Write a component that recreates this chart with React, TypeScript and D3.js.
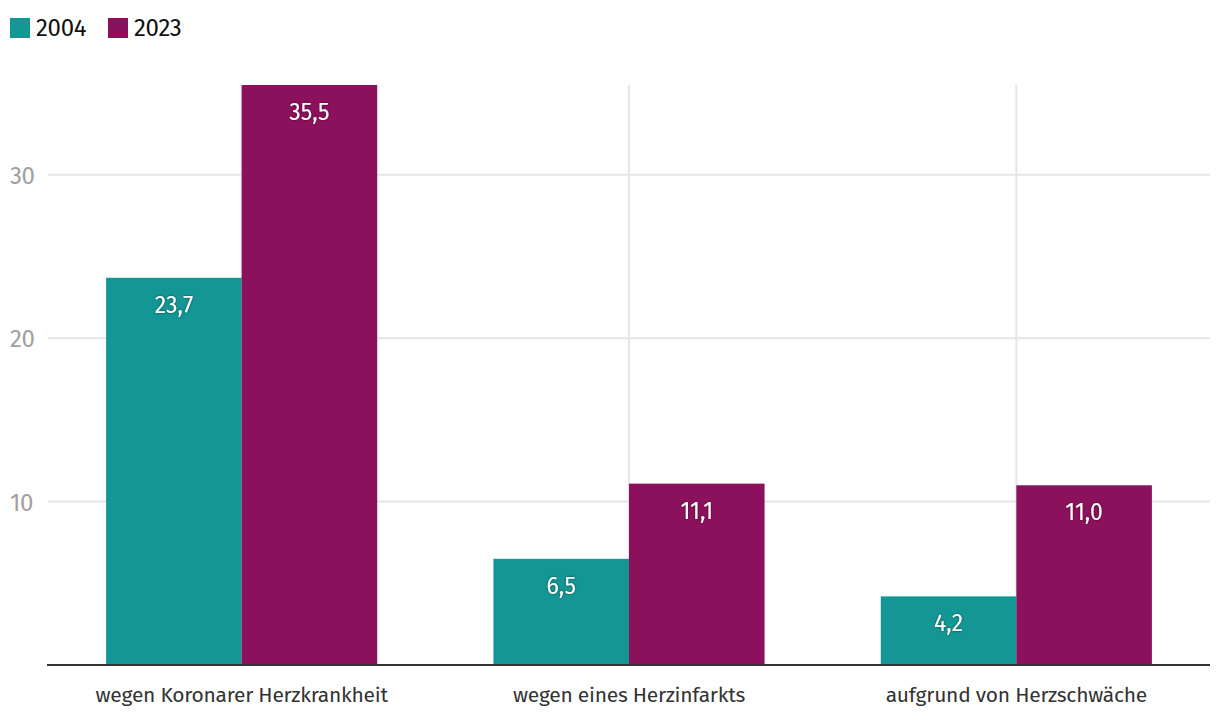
import React from "react";
import * as d3 from "d3";

const categories = ["wegen Koronarer Herzkrankheit", "wegen eines Herzinfarkts", "aufgrund von Herzschwäche"];
const seriesNames = ["2004", "2023"];
const values2004 = [23.7, 6.5, 4.2];
const values2023 = [35.5, 11.1, 11.0];
const yTicks = [10, 20, 30];
const colors = ["#139694", "#8c115c"];

const W = 1220;
const H = 722;
const FONT = "'Fira Sans', 'Noto Sans', 'Open Sans', sans-serif";

export default function App() {
  const left = 48, right = 1210, top = 85, bottom = 665;
  const x0 = d3.scaleBand<string>().domain(categories).range([left, right]).paddingInner(0.3).paddingOuter(0.15);
  const x1 = d3.scaleBand<string>().domain(seriesNames).range([0, x0.bandwidth()]).padding(0);
  const y = d3.scaleLinear().domain([0, 35.5]).range([bottom, top]);
  const series = [values2004, values2023];
  const fmt = (v: number) => v.toFixed(1).replace(".", ",");

  return (
    <svg width={W} height={H} style={{ position: "absolute", left: 0, top: 0, fontFamily: FONT }}>
      <defs>
        <filter id="ts" x="-20%" y="-20%" width="140%" height="140%">
          <feDropShadow dx="0" dy="0" stdDeviation="1.2" floodColor="#000" floodOpacity="0.6" />
        </filter>
      </defs>
      {/* legend */}
      {seriesNames.map((s, i) => {
        const lx = i === 0 ? 10 : 108;
        return (
          <g key={s}>
            <rect x={lx} y={18} width={20} height={20} fill={colors[i]} />
            <text x={lx + 26} y={36} fontSize={24} fill="#111" letterSpacing={-0.3}>{s}</text>
          </g>
        );
      })}
      {/* horizontal grid */}
      {yTicks.map((t) => (
        <g key={t}>
          <line x1={left} x2={right} y1={y(t)} y2={y(t)} stroke="#e6e6e6" strokeWidth={2} />
          <text x={10} y={y(t) + 9} fontSize={24} fill="#a0a0a0" letterSpacing={-0.5}>{t}</text>
        </g>
      ))}
      {/* vertical grid at category centers */}
      {categories.map((c) => (
        <line key={c} x1={x0(c)! + x0.bandwidth() / 2} x2={x0(c)! + x0.bandwidth() / 2} y1={top} y2={bottom} stroke="#e6e6e6" strokeWidth={2} />
      ))}
      {/* bars */}
      {categories.map((c, ci) => (
        <g key={c} transform={`translate(${x0(c)},0)`}>
          {seriesNames.map((s, si) => {
            const v = series[si][ci];
            const bx = x1(s)!;
            return (
              <g key={s}>
                <rect x={bx} y={y(v)} width={x1.bandwidth()} height={bottom - y(v)} fill={colors[si]} />
                <text x={bx + x1.bandwidth() / 2} y={y(v) + 35} textAnchor="middle" fontSize={23} fill="#fff" filter="url(#ts)">{fmt(v)}</text>
              </g>
            );
          })}
        </g>
      ))}
      {/* axis line */}
      <line x1={left - 1} x2={right} y1={bottom} y2={bottom} stroke="#333" strokeWidth={2} />
      {/* category labels */}
      {categories.map((c) => (
        <text key={c} x={x0(c)! + x0.bandwidth() / 2} y={702} textAnchor="middle" fontSize={21} fill="#333" letterSpacing={-0.25}>{c}</text>
      ))}
    </svg>
  );
}
